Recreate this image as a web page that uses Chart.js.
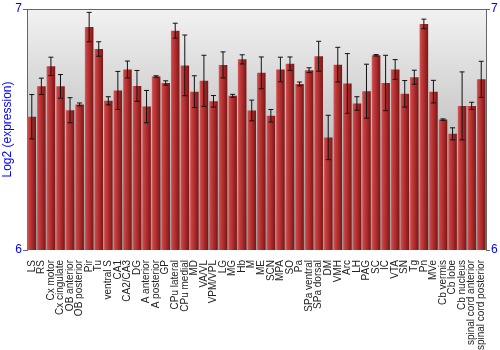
<!DOCTYPE html>
<html>
<head>
<meta charset="utf-8">
<script src="https://cdn.jsdelivr.net/npm/chart.js@4/dist/chart.umd.min.js"></script>
<style>
html,body{margin:0;padding:0;background:#fff;}
#wrap{width:500px;height:350px;}
</style>
</head>
<body>
<div id="wrap"><canvas id="c" width="500" height="350"></canvas></div>
<script>
const categories = ["LS","RS","Cx motor","Cx cingulate","OB anterior","OB posterior","Pir","Tu","ventral S","CA1","CA2/CA3","DG","A anterior","A posterior","GP","CPu lateral","CPu medial","MD","VA/VL","VPM/VPL","LG","MG","Hb","M","ME","SCN","MPA","SO","Pa","SPa ventral","SPa dorsal","DM","VMH","Arc","LH","PAG","SC","IC","VTA","SN","Tg","Pn","MVe","Cb vermis","Cb lobe","Cb nucleus","spinal cord anterior","spinal cord posterior"];
const values = [6.553,6.679,6.762,6.679,6.580,6.604,6.925,6.834,6.619,6.662,6.749,6.681,6.595,6.720,6.693,6.910,6.766,6.657,6.702,6.617,6.768,6.640,6.791,6.579,6.735,6.557,6.749,6.773,6.689,6.746,6.804,6.467,6.769,6.691,6.608,6.659,6.808,6.693,6.749,6.648,6.717,6.938,6.657,6.541,6.482,6.598,6.598,6.708];
const errors = [0.092,0.034,0.038,0.049,0.052,0.006,0.061,0.030,0.017,0.079,0.035,0.064,0.067,0.003,0.009,0.031,0.126,0.066,0.106,0.024,0.054,0.006,0.019,0.043,0.066,0.026,0.051,0.028,0.008,0.010,0.062,0.092,0.072,0.124,0.028,0.112,0.003,0.115,0.041,0.055,0.029,0.020,0.047,0.003,0.025,0.141,0.015,0.075];
const yTicks = [6, 7];
const yTitle = "Log2 (expression)";

const bgPlugin = {
  id: 'bg',
  beforeDraw(chart) {
    const {ctx, chartArea: a} = chart;
    if (!a) return;
    const g = ctx.createLinearGradient(0, a.top, 0, a.bottom);
    g.addColorStop(0, '#f2f2f2');
    g.addColorStop(1, '#9c9c9c');
    ctx.save();
    ctx.fillStyle = g;
    ctx.fillRect(a.left, a.top, a.right - a.left, a.bottom - a.top);
    ctx.restore();
  },
  afterDraw(chart) {
    const {ctx, chartArea: a} = chart;
    ctx.save();
    ctx.strokeStyle = '#666';
    ctx.lineWidth = 1;
    ctx.beginPath();
    ctx.moveTo(a.left - 4, a.top + 0.5);
    ctx.lineTo(a.right + 4, a.top + 0.5);
    ctx.stroke();
    ctx.restore();
  }
};

const errPlugin = {
  id: 'err',
  afterDatasetsDraw(chart) {
    const ctx = chart.ctx;
    const meta = chart.getDatasetMeta(0);
    const ys = chart.scales.y;
    ctx.save();
    ctx.strokeStyle = '#111';
    ctx.lineWidth = 1;
    meta.data.forEach((bar, i) => {
      const x = bar.x;
      const yt = ys.getPixelForValue(values[i] + errors[i]);
      const yb = ys.getPixelForValue(values[i] - errors[i]);
      ctx.beginPath();
      ctx.moveTo(x, yt); ctx.lineTo(x, yb);
      ctx.moveTo(x - 2.5, yt); ctx.lineTo(x + 2.5, yt);
      ctx.moveTo(x - 2.5, yb); ctx.lineTo(x + 2.5, yb);
      ctx.stroke();
    });
    ctx.restore();
  }
};

function barGradient(context) {
  const chart = context.chart;
  const a = chart.chartArea;
  if (!a || context.dataIndex === undefined) return '#b03030';
  const xs = chart.scales.x;
  const cx = xs.getPixelForValue(context.dataIndex);
  const w = (a.right - a.left) / categories.length * 0.9;
  const g = chart.ctx.createLinearGradient(cx - w / 2, 0, cx + w / 2, 0);
  g.addColorStop(0, '#d06a6a');
  g.addColorStop(0.15, '#c84343');
  g.addColorStop(0.5, '#b02e2e');
  g.addColorStop(1, '#781616');
  return g;
}

new Chart(document.getElementById('c'), {
  type: 'bar',
  data: {
    labels: categories,
    datasets: [{
      data: values,
      backgroundColor: barGradient,
      borderWidth: 0,
      barPercentage: 0.9,
      categoryPercentage: 1.0
    }]
  },
  options: {
    responsive: false,
    animation: false,
    devicePixelRatio: 1,
    layout: { padding: { top: 9, left: 0, right: 0, bottom: 0 } },
    plugins: { legend: { display: false }, tooltip: { enabled: false } },
    scales: {
      x: {
        grid: { display: false },
        border: { display: false },
        ticks: {
          autoSkip: false, minRotation: 90, maxRotation: 90, padding: 2,
          color: '#222', font: { family: 'Liberation Sans, Arial', size: 10 }
        },
        afterFit(s) { s.height = 100; }
      },
      y: {
        position: 'left', min: 6, max: 7,
        afterBuildTicks(s) { s.ticks = yTicks.map(v => ({ value: v })); },
        grid: { drawOnChartArea: false, tickLength: 4, color: '#666' },
        border: { display: true, color: '#666' },
        ticks: { color: '#0000ff', padding: 1, font: { family: 'Liberation Sans, Arial', size: 12 } },
        title: { display: true, text: yTitle, color: '#0000ff', padding: { top: 0, bottom: 0 }, font: { family: 'Liberation Sans, Arial', size: 12 } },
        afterFit(s) { s.width = 27; }
      },
      y2: {
        position: 'right', min: 6, max: 7,
        afterBuildTicks(s) { s.ticks = yTicks.map(v => ({ value: v })); },
        grid: { drawOnChartArea: false, tickLength: 4, color: '#666' },
        border: { display: true, color: '#666' },
        ticks: { color: '#0000ff', padding: 1, font: { family: 'Liberation Sans, Arial', size: 12 } },
        afterFit(s) { s.width = 14; }
      }
    }
  },
  plugins: [bgPlugin, errPlugin]
});
</script>
</body>
</html>
